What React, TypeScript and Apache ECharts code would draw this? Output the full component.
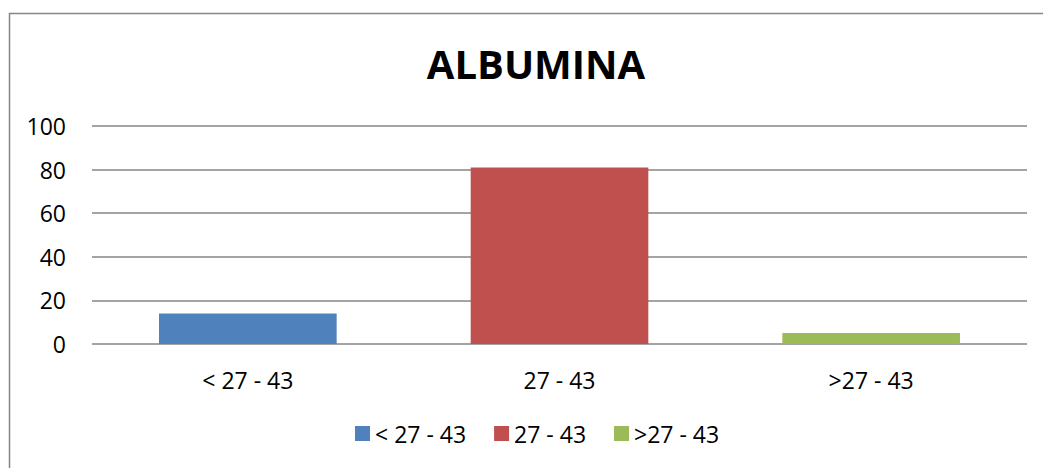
import React, { useEffect, useRef } from "react";
import * as echarts from "echarts";

// Albumin ranges and share of cases (%)
const categories = ["< 27 - 43", "27 - 43", ">27 - 43"];
const values = [14, 81, 5];
const colors = ["#4F81BD", "#C0504D", "#9BBB59"];
const yTicks = { min: 0, max: 100, interval: 20 };

export default function App() {
  const ref = useRef<HTMLDivElement>(null);

  useEffect(() => {
    if (!ref.current) return;
    const chart = echarts.init(ref.current, null, { renderer: "svg" });
    const font = "'Open Sans', 'Noto Sans', sans-serif";

    // one series per range so the legend lists each one with its own colour
    const series = categories.map((name, i) => ({
      name,
      type: "bar" as const,
      stack: "all",
      barWidth: "57%",
      itemStyle: { color: colors[i] },
      data: categories.map((_, j) => (j === i ? values[i] : "-")),
    }));

    chart.setOption({
      animation: false,
      backgroundColor: "#ffffff",
      title: {
        text: "ALBUMINA",
        left: 531,
        textAlign: "center",
        top: 38,
        textStyle: {
          fontFamily: font,
          fontWeight: "bold",
          fontSize: 40,
          color: "#000000",
        },
      },
      legend: {
        bottom: 18,
        left: 350,
        itemWidth: 15,
        itemHeight: 15,
        itemGap: 28,
        icon: "rect",
        textStyle: { fontFamily: font, fontSize: 23, color: "#000000" },
        data: categories,
      },
      grid: { left: 92, right: 16, top: 126, bottom: 124, containLabel: false },
      xAxis: {
        type: "category",
        data: categories,
        axisLine: { show: false },
        axisTick: { show: false },
        axisLabel: { fontFamily: font, fontSize: 23, color: "#000000", margin: 24 },
      },
      yAxis: {
        type: "value",
        min: yTicks.min,
        max: yTicks.max,
        interval: yTicks.interval,
        axisLine: { show: false },
        axisTick: { show: false },
        axisLabel: { fontFamily: font, fontSize: 23, color: "#000000", margin: 26 },
        splitLine: { lineStyle: { color: "#868686", width: 1.5 } },
      },
      graphic: [
        {
          type: "rect",
          shape: { x: 9.5, y: 13.5, width: 1100, height: 500 },
          style: { fill: "none", stroke: "#868686", lineWidth: 1.5 },
          silent: true,
          z: -1,
        },
      ],
      series,
    });

    return () => chart.dispose();
  }, []);

  return (
    <div
      ref={ref}
      style={{ position: "fixed", left: 0, top: 0, width: 1043, height: 468 }}
    />
  );
}
